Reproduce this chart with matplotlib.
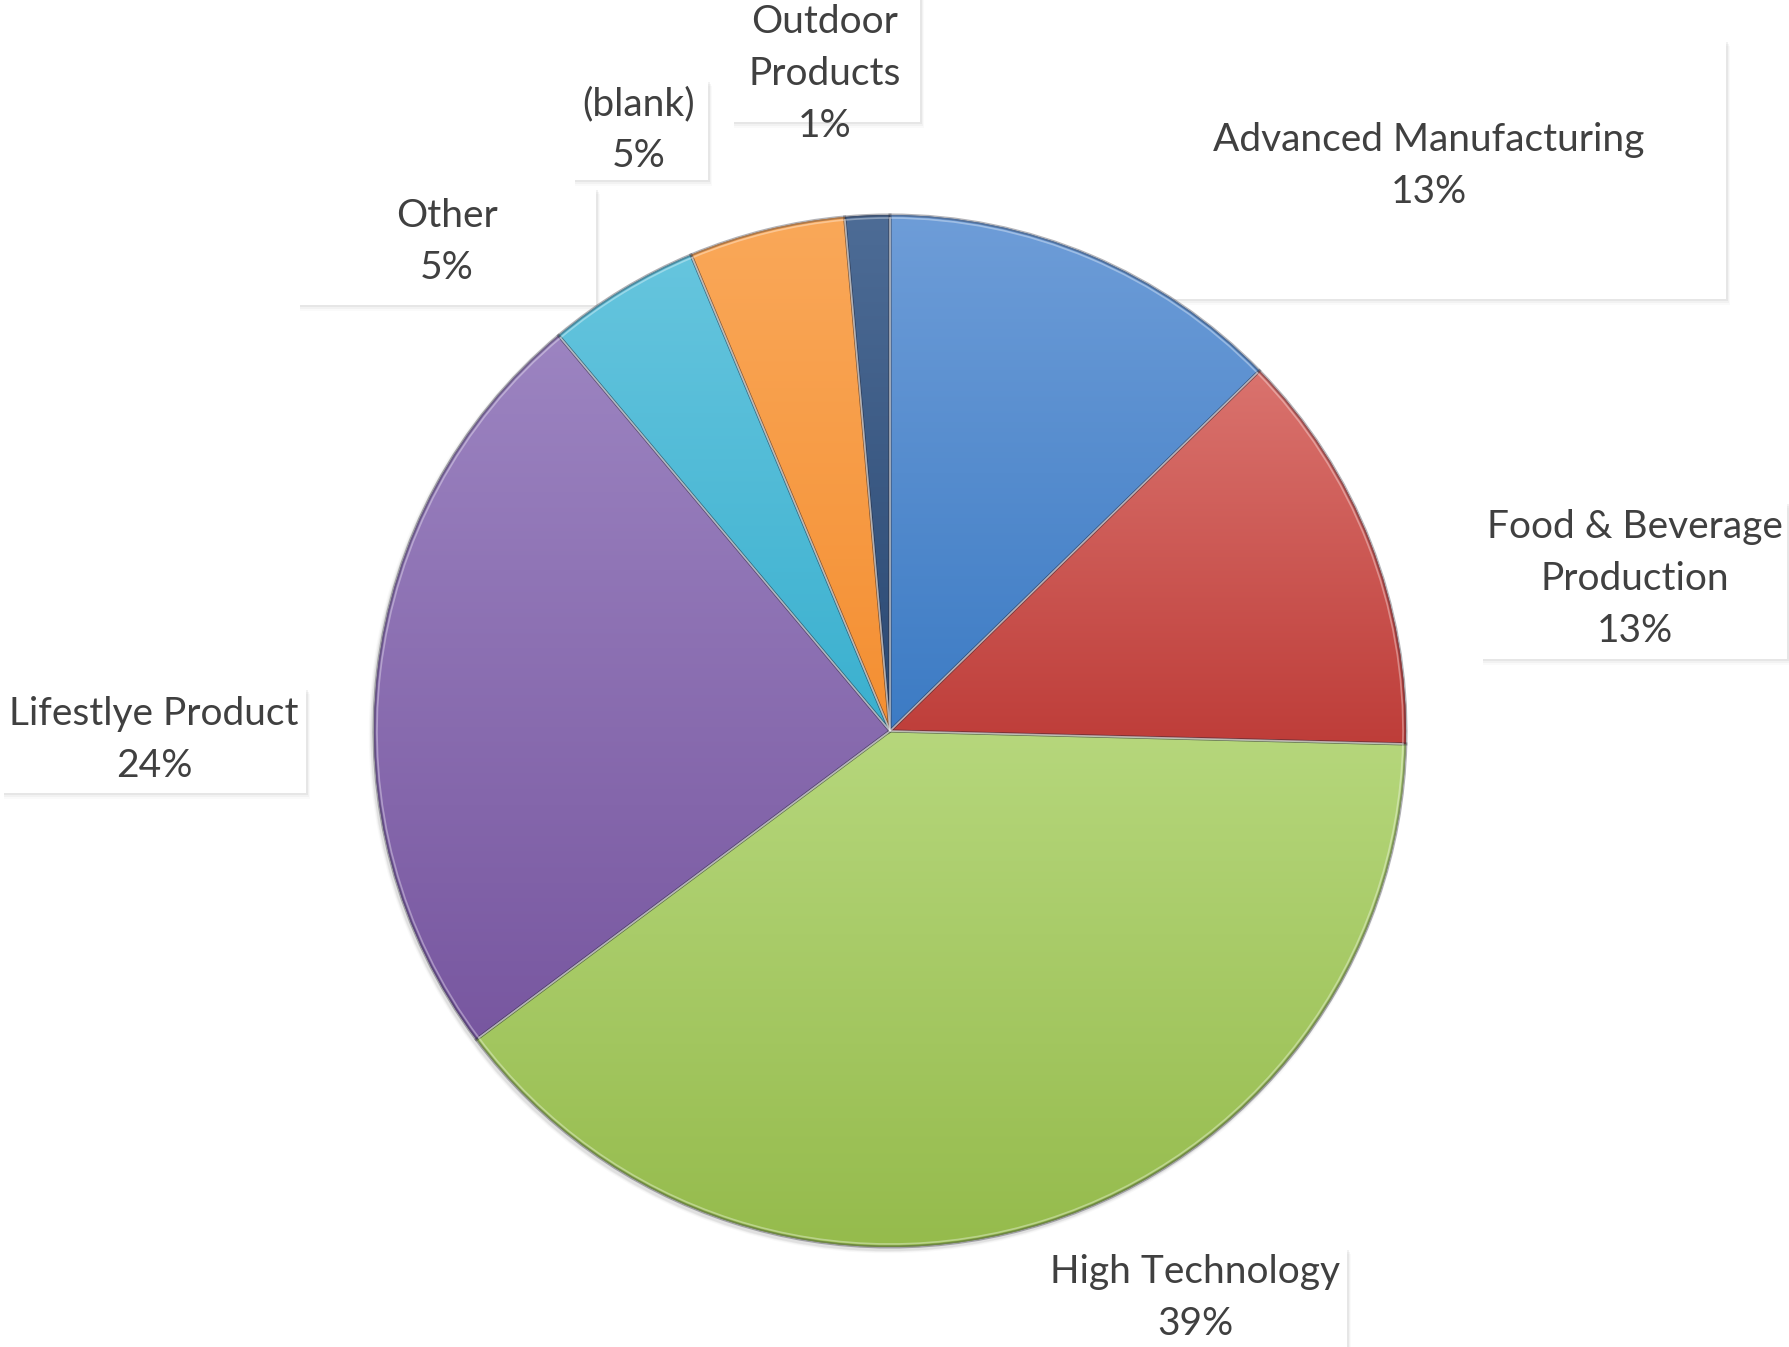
import matplotlib
matplotlib.use("Agg")
import matplotlib.pyplot as plt
import numpy as np
from matplotlib.colors import LinearSegmentedColormap
from matplotlib.patches import Rectangle, Circle, Wedge

# ---- data ----
categories = ["Advanced Manufacturing", "Food & Beverage\nProduction", "High Technology",
              "Lifestlye Product", "Other", "(blank)", "Outdoor\nProducts"]
values = [12.7, 12.7, 39.4, 24.1, 4.8, 4.9, 1.4]
top_colors = ["#6E9DD8", "#DA736E", "#B6D77C", "#9C84C1", "#66C5DE", "#FAA859", "#4D6C96"]
bottom_colors = ["#3C7BC4", "#BE3D39", "#95BB4C", "#7857A0", "#3AB0CF", "#F48F32", "#2A4872"]

# ---- layout (pixels, top-left origin) ----
W, H = 1790, 1347
label_centers = [(1429, 166), (1635, 579), (1195, 1298), (154, 740), (447, 242), (639, 130), (825, 74)]
label_boxes = [(1130, 40, 1726, 299), (1482, 502, 1787, 659), (1045, 1248, 1347, 1360),
               (3, 688, 306, 793), (299, 188, 596, 305), (574, 80, 708, 180), (733, -10, 920, 122)]

fig = plt.figure(figsize=(W / 100, H / 100), dpi=100)
ax = fig.add_axes([0, 0, 1, 1])

cx, cy, R = 890, H - 731, 516

# label boxes with soft shadows (behind the pie)
for (x0, y0, x1, y1) in label_boxes:
    for k, a in [(6, 0.03), (4, 0.05), (2, 0.08)]:
        ax.add_patch(Rectangle((x0 + 1, H - y1 - k), x1 - x0 + k * 0.5, y1 - y0, facecolor="#606060",
                               edgecolor="none", alpha=a, zorder=0.1))
    ax.add_patch(Rectangle((x0, H - y1), x1 - x0, y1 - y0, facecolor="white", edgecolor="none", zorder=0.2))

# pie shadow
for k, a in [(8, 0.05), (5, 0.08), (3, 0.12)]:
    ax.add_patch(Circle((cx - 2, cy - 3), R + k * 0.4, facecolor="#808080", edgecolor="none",
                        alpha=a, zorder=0.5))

wedges, _ = ax.pie(values, startangle=90, counterclock=False, center=(cx, cy), radius=R,
                   wedgeprops=dict(linewidth=0, edgecolor="none"))

for w, tc, bc in zip(wedges, top_colors, bottom_colors):
    w.set_facecolor(bc)
    w.set_zorder(1)
    ext = w.get_path().get_extents()
    cmap = LinearSegmentedColormap.from_list("g", [bc, tc])
    grad = np.linspace(0, 1, 256).reshape(-1, 1)
    im = ax.imshow(grad, extent=(ext.x0, ext.x1, ext.y0, ext.y1), origin="lower",
                   cmap=cmap, aspect="auto", zorder=2, interpolation="bilinear")
    im.set_clip_path(w)
    # bevel-like edges
    ax.add_patch(Wedge(w.center, w.r, w.theta1, w.theta2, facecolor="none",
                       edgecolor=(0.15, 0.15, 0.2, 0.35), linewidth=2.2, zorder=3))
    ax.add_patch(Wedge(w.center, w.r - 3, w.theta1, w.theta2, facecolor="none",
                       edgecolor=(1, 1, 1, 0.35), linewidth=1.2, zorder=3.1))

total = sum(values)
for cat, v, (lx, ly) in zip(categories, values, label_centers):
    ax.text(lx, H - ly, f"{cat}\n{round(v / total * 100)}%", ha="center", va="center",
            fontsize=28, family=["Lato", "DejaVu Sans"], color="#404040", linespacing=1.54,
            zorder=6)

ax.set_xlim(0, W)
ax.set_ylim(0, H)
ax.set_aspect("equal")
ax.axis("off")
fig.savefig("out.png", dpi=100, facecolor="white")
